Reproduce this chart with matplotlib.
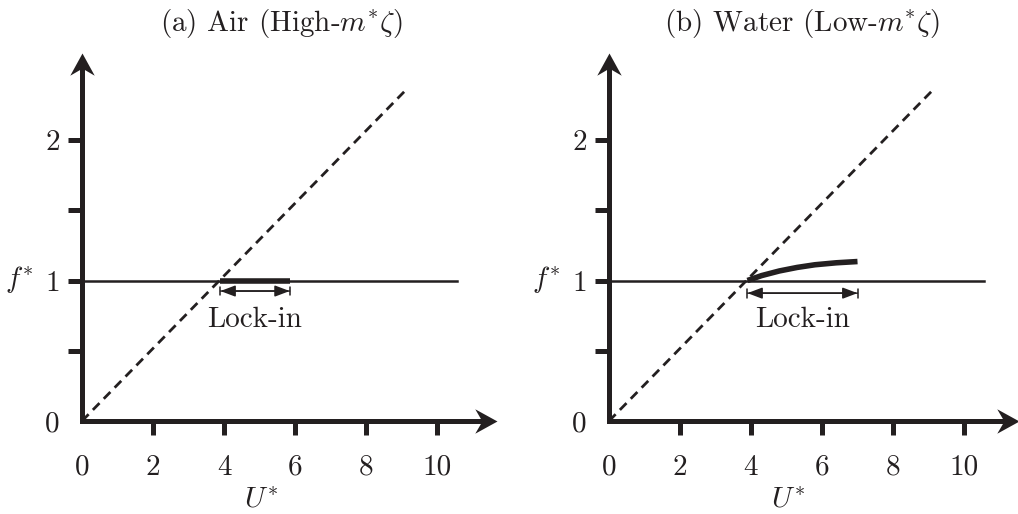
import matplotlib
matplotlib.use("Agg")
import matplotlib.pyplot as plt
from matplotlib.path import Path

plt.rcParams['font.family'] = 'serif'
plt.rcParams['font.serif'] = ['cmr10']
plt.rcParams['mathtext.fontset'] = 'cm'
plt.rcParams['axes.formatter.use_mathtext'] = True

# schematic data
titles = ['(a) Air (High-$m^{*}\\zeta$)', '(b) Water (Low-$m^{*}\\zeta$)']
x_ticks = [0, 2, 4, 6, 8, 10]
x_ticklabels = ['0', '2', '4', '6', '8', '10']
y_ticks = [0, 0.5, 1, 1.5, 2]
y_ticklabels = ['0', '', '1', '', '2']

# vortex shedding line (dashed)
shed_u = [0, 9.1]
shed_f = [0, 2.35]

# natural frequency line f* = 1
nat_u = [0, 10.56]
nat_f = [1, 1]

# lock-in branch, air
air_u = [3.9, 5.85]
air_f = [1.0, 1.0]

# lock-in branch, water
water_u = [3.9, 4.3, 4.8, 5.3, 5.8, 6.4, 7.0]
water_f = [1.0, 1.035, 1.068, 1.093, 1.112, 1.126, 1.135]

lock_ranges = [(3.9, 5.85), (3.9, 7.0)]
lock_y = [0.925, 0.91]

ink = '#231f20'
fs = 21

# stealth arrow heads for the axes
head_x = Path([(0, 0), (-1, 0.55), (-0.68, 0), (-1, -0.55), (0, 0)],
              [Path.MOVETO, Path.LINETO, Path.LINETO, Path.LINETO, Path.CLOSEPOLY])
head_y = Path([(0, 0), (-0.55, -1), (0, -0.68), (0.55, -1), (0, 0)],
              [Path.MOVETO, Path.LINETO, Path.LINETO, Path.LINETO, Path.CLOSEPOLY])

fig = plt.figure(figsize=(10.18, 5.14), dpi=100)
positions = [[82 / 1018, 93 / 514, 11.4 * 35.5 / 1018, 2.7 * 140.5 / 514],
             [609 / 1018, 93 / 514, 11.4 * 35.5 / 1018, 2.7 * 140.5 / 514]]
title_x = [5.6, 5.45]
x_tip = [11.7, 11.55]
y_tip = 2.62

for i, pos in enumerate(positions):
    ax = fig.add_axes(pos)
    ax.set_xlim(0, 11.4)
    ax.set_ylim(0, 2.7)
    for s in ax.spines.values():
        s.set_visible(False)
    ax.patch.set_visible(False)

    # axes drawn as thick arrows
    ax.plot([0, x_tip[i] - 0.42], [0, 0], color=ink, lw=3.6,
            solid_capstyle='projecting', clip_on=False, zorder=5)
    ax.plot([0, 0], [0, y_tip - 0.1], color=ink, lw=3.6,
            solid_capstyle='projecting', clip_on=False, zorder=5)
    ax.plot(x_tip[i], 0, marker=head_x, ms=32, color=ink, mew=0,
            clip_on=False, zorder=6)
    ax.plot(0, y_tip, marker=head_y, ms=32, color=ink, mew=0,
            clip_on=False, zorder=6)

    # ticks: no mark at the origin
    ax.set_xticks(x_ticks)
    ax.set_xticklabels(x_ticklabels)
    ax.set_yticks(y_ticks)
    ax.set_yticklabels(y_ticklabels)
    ax.tick_params(direction='out', length=10, width=3.6, color=ink,
                   labelsize=fs, labelcolor=ink)
    ax.tick_params(axis='x', pad=14)
    ax.tick_params(axis='y', pad=6)
    ax.xaxis.get_major_ticks()[0].tick1line.set_visible(False)
    ax.yaxis.get_major_ticks()[0].tick1line.set_visible(False)

    ax.plot(shed_u, shed_f, color=ink, lw=2.0, ls=(0, (3.4, 2.2)),
            clip_on=False)
    ax.plot(nat_u, nat_f, color=ink, lw=1.8, clip_on=False)

    if i == 0:
        ax.plot(air_u, air_f, color=ink, lw=4, solid_capstyle='butt')
    else:
        ax.plot(water_u, water_f, color=ink, lw=4, solid_capstyle='butt')

    u0, u1 = lock_ranges[i]
    ax.annotate('', xy=(u1, lock_y[i]), xytext=(u0, lock_y[i]),
                arrowprops=dict(arrowstyle='<|-|>,head_length=0.45,head_width=0.17',
                                color=ink, lw=1.1, shrinkA=0, shrinkB=0,
                                mutation_scale=20))
    ax.annotate('', xy=(u1, lock_y[i]), xytext=(u0, lock_y[i]),
                arrowprops=dict(arrowstyle='|-|,widthA=0.16,widthB=0.16',
                                color=ink, lw=1.1, shrinkA=0, shrinkB=0,
                                mutation_scale=20))
    ax.text((u0 + u1) / 2, 0.72, 'Lock-in', fontsize=fs, ha='center',
            va='center', color=ink)

    ax.text(title_x[i], 2.83, titles[i], fontsize=fs, ha='center',
            va='center', color=ink, clip_on=False)
    ax.text(5.05, -0.56, '$U^{*}$', fontsize=fs, ha='center', va='center',
            color=ink, clip_on=False)
    ax.text(-1.77, 1.0, '$f^{*}$', fontsize=fs, ha='center', va='center',
            color=ink, clip_on=False)

fig.savefig('out.png', dpi=100)
